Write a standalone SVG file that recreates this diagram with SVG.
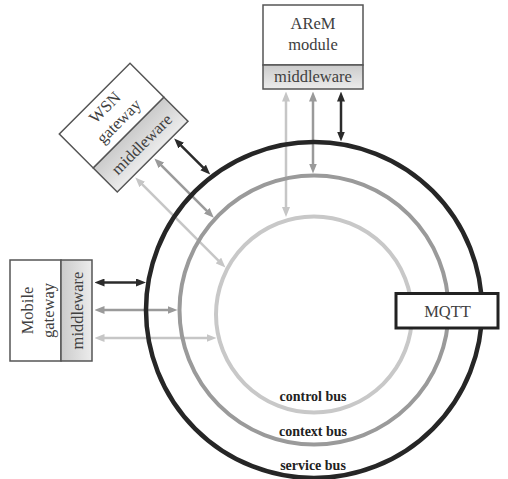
<svg xmlns="http://www.w3.org/2000/svg" width="508" height="479" viewBox="0 0 508 479">
<defs>
<style>
.box{fill:#fff;stroke:#555;stroke-width:1.5}
.mw{fill:url(#mwg);stroke:#555;stroke-width:1.5}
.t{font-family:"Liberation Serif","Times New Roman",serif;font-size:16.5px;fill:#404040;text-anchor:middle}
.lbl{font-family:"Liberation Serif","Times New Roman",serif;font-size:14px;font-weight:bold;fill:#222;text-anchor:middle}
.bus{fill:none}
.a{fill:none;stroke-width:2.5}
.ak{stroke:#2b2b2b}
.am{stroke:#9a9a9a}
.al{stroke:#c6c6c6}
</style>
<linearGradient id="mwg" x1="0" y1="0" x2="0" y2="1">
<stop offset="0" stop-color="#cbcbcb"/>
<stop offset="1" stop-color="#ececec"/>
</linearGradient>
<marker id="hk" viewBox="0 0 10 8" markerWidth="10" markerHeight="8" refX="0.5" refY="4" orient="auto-start-reverse" markerUnits="userSpaceOnUse"><path d="M0,0L10,4L0,8z" fill="#2b2b2b"/></marker>
<marker id="hm" viewBox="0 0 10 8" markerWidth="10" markerHeight="8" refX="0.5" refY="4" orient="auto-start-reverse" markerUnits="userSpaceOnUse"><path d="M0,0L10,4L0,8z" fill="#9a9a9a"/></marker>
<marker id="hl" viewBox="0 0 10 8" markerWidth="10" markerHeight="8" refX="0.5" refY="4" orient="auto-start-reverse" markerUnits="userSpaceOnUse"><path d="M0,0L10,4L0,8z" fill="#c6c6c6"/></marker>
</defs>
<rect width="508" height="479" fill="#fff"/>

<g id="connectors">
<!-- AReM module -->
<path class="a al" d="M286,101V207.5" marker-start="url(#hl)" marker-end="url(#hl)"/>
<path class="a am" d="M313,101V164" marker-start="url(#hm)" marker-end="url(#hm)"/>
<path class="a ak" d="M341,101V132" marker-start="url(#hk)" marker-end="url(#hk)"/>
<!-- WSN gateway -->
<path class="a al" d="M142,184.2L218.7,260.9" marker-start="url(#hl)" marker-end="url(#hl)"/>
<path class="a am" d="M161.1,165.1L207.1,211.1" marker-start="url(#hm)" marker-end="url(#hm)"/>
<path class="a ak" d="M180.9,145.3L203.5,167.9" marker-start="url(#hk)" marker-end="url(#hk)"/>
<!-- Mobile gateway -->
<path class="a ak" d="M104,282.5H136.5" marker-start="url(#hk)" marker-end="url(#hk)"/>
<path class="a am" d="M104,310H168" marker-start="url(#hm)" marker-end="url(#hm)"/>
<path class="a al" d="M104,338H207" marker-start="url(#hl)" marker-end="url(#hl)"/>
</g>

<g id="service-bus">
<circle class="bus" cx="314" cy="310" r="168" stroke="#262626" stroke-width="4.5"/>
<text class="lbl" x="313" y="470">service bus</text>
</g>
<g id="context-bus">
<circle class="bus" cx="314" cy="310" r="134.5" stroke="#9a9a9a" stroke-width="4"/>
<text class="lbl" x="313" y="435.5">context bus</text>
</g>
<g id="control-bus">
<circle class="bus" cx="314" cy="314.5" r="98" stroke="#c8c8c8" stroke-width="4"/>
<text class="lbl" x="313" y="401">control bus</text>
</g>

<g id="arem-module" transform="translate(263,5)">
<rect class="box" x="0" y="0" width="100" height="60"/>
<rect class="mw" x="0" y="60" width="100" height="24"/>
<text class="t" x="50" y="24">AReM</text>
<text class="t" x="50" y="44.5">module</text>
<text class="t" x="50" y="76.5">middleware</text>
</g>

<g id="wsn-gateway" transform="translate(59.3,134) rotate(-45)">
<rect class="box" x="0" y="0" width="100" height="48"/>
<rect class="mw" x="0" y="48" width="100" height="34"/>
<text class="t" x="51" y="19">WSN</text>
<text class="t" x="51" y="38.5">gateway</text>
<text class="t" x="51" y="71">middleware</text>
</g>

<g id="mobile-gateway" transform="translate(10,361) rotate(-90)">
<rect class="box" x="0" y="0" width="101" height="51"/>
<rect class="mw" x="0" y="51" width="101" height="31"/>
<text class="t" x="50.5" y="23">Mobile</text>
<text class="t" x="50.5" y="43.5">gateway</text>
<text class="t" x="50.5" y="73">middleware</text>
</g>

<g id="mqtt">
<rect x="396" y="293.5" width="102" height="34.5" fill="#fff" stroke="#222" stroke-width="3"/>
<text class="t" x="447.5" y="316.5">MQTT</text>
</g>
</svg>
